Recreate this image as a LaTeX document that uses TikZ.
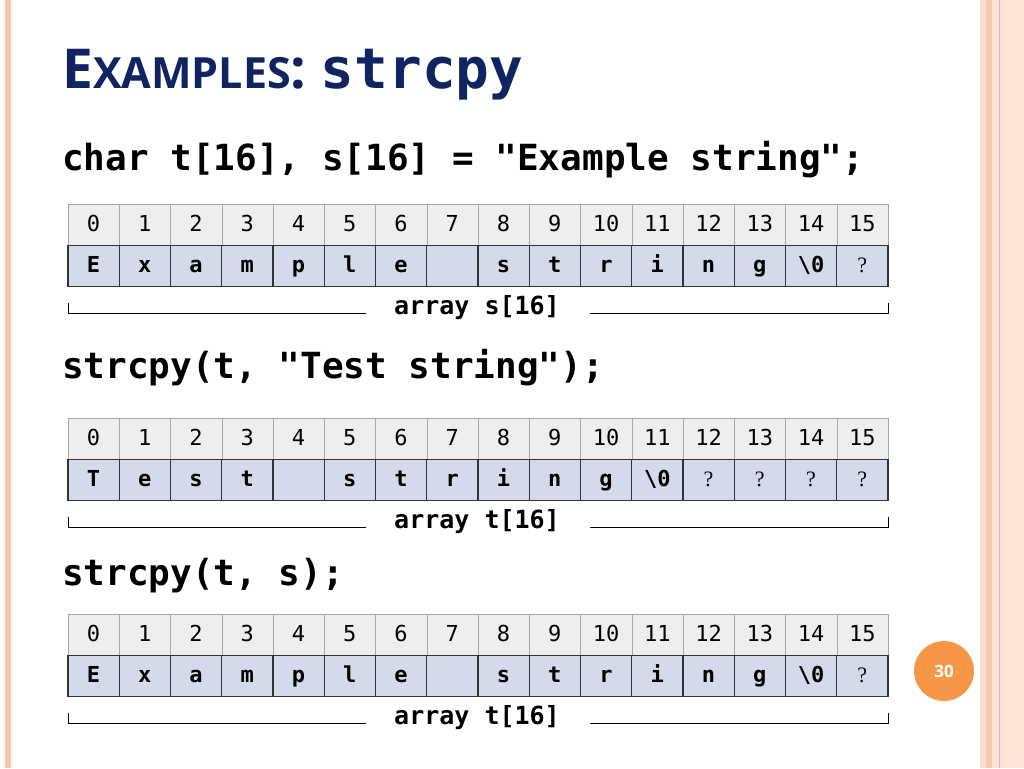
\documentclass[tikz,border=0pt]{standalone}
\usepackage{fontspec}
\setmainfont{Open Sans}
\setmonofont{DejaVu Sans Mono}
\newfontfamily\qfont{Liberation Serif}
\definecolor{navy}{HTML}{0F2460}
\definecolor{stripe}{HTML}{F8C8B0}
\definecolor{cellblue}{HTML}{D3DAEA}
\definecolor{cellgray}{HTML}{EEEEEE}
\definecolor{badge}{HTML}{F79646}
\tikzset{
  idx/.style={draw=gray!70, fill=cellgray, minimum width=51.25pt, minimum height=42pt, inner sep=0pt, text height=16pt, text depth=4pt, font=\fontsize{22}{22}\selectfont\ttfamily},
  val/.style={draw=black!80, line width=1.2pt, fill=cellblue, minimum width=51.25pt, minimum height=41pt, inner sep=0pt, text height=16pt, text depth=4pt, font=\fontsize{22}{22}\selectfont\ttfamily\bfseries},
  code/.style={anchor=west, inner sep=0pt, font=\fontsize{36}{36}\selectfont\ttfamily\bfseries},
  brace/.style={line width=1pt},
  lab/.style={inner sep=0pt, font=\fontsize{25}{25}\selectfont\ttfamily\bfseries}
}
\newcommand{\qm}{{\qfont\mdseries ?}}
\begin{document}
\begin{tikzpicture}[x=1pt,y=-1pt]
\useasboundingbox (0,0) rectangle (1024,768);
% slide border
\fill[stripe] (5,0) rectangle (11,768);
\fill[stripe!60] (980,0) rectangle (986,768);
\fill[stripe] (986,0) rectangle (992,768);
\fill[stripe!50] (992,0) rectangle (1024,768);
\draw[stripe!140, line width=1pt] (999,0) -- (999,768);
% title
\node[anchor=base west, inner sep=0pt, text=navy, font=\bfseries] (title) at (62,88)
  {\fontsize{55}{55}\selectfont E\fontsize{43}{43}\selectfont XAMPLES\fontsize{55}{55}\selectfont: \ttfamily\fontsize{56}{56}\selectfont strcpy};
% code lines
\node[code] (c1) at (62,160) {char t[16], s[16] = "Example string";};
\node[code] (c2) at (62,368) {strcpy(t, "Test string");};
\node[code] (c3) at (62,576) {strcpy(t, s);};
% arrays
\foreach \r/\yi/\yv/\lbl/\vals in {
  a/225/266/{array s[16]}/{E,x,a,m,p,l,e,{},s,t,r,i,n,g,\textbackslash0,\qm},
  b/439/480/{array t[16]}/{T,e,s,t,{},s,t,r,i,n,g,\textbackslash0,\qm,\qm,\qm,\qm},
  c/635/676/{array t[16]}/{E,x,a,m,p,l,e,{},s,t,r,i,n,g,\textbackslash0,\qm}} {
  \foreach \v [count=\i from 0] in \vals {
    \node[idx] (\r i\i) at (93.6+51.25*\i,\yi) {\i};
    \node[val] (\r v\i) at (93.6+51.25*\i,\yv) {\v};
  }
  \node[lab] (\r lab) at (477,\yv+42) {\lbl};
  \coordinate (\r l) at (68,\yv+47);
  \coordinate (\r r) at (888,\yv+47);
  \draw[brace] ([yshift=10pt]\r l) -- (\r l) -- (366,\yv+47);
  \draw[brace] (590,\yv+47) -- (\r r) -- ([yshift=10pt]\r r);
}
% page number
\node[circle, fill=badge, minimum size=60pt, text=white, font=\bfseries\fontsize{17}{17}\selectfont] (page) at (944,671) {30};
\end{tikzpicture}
\end{document}
